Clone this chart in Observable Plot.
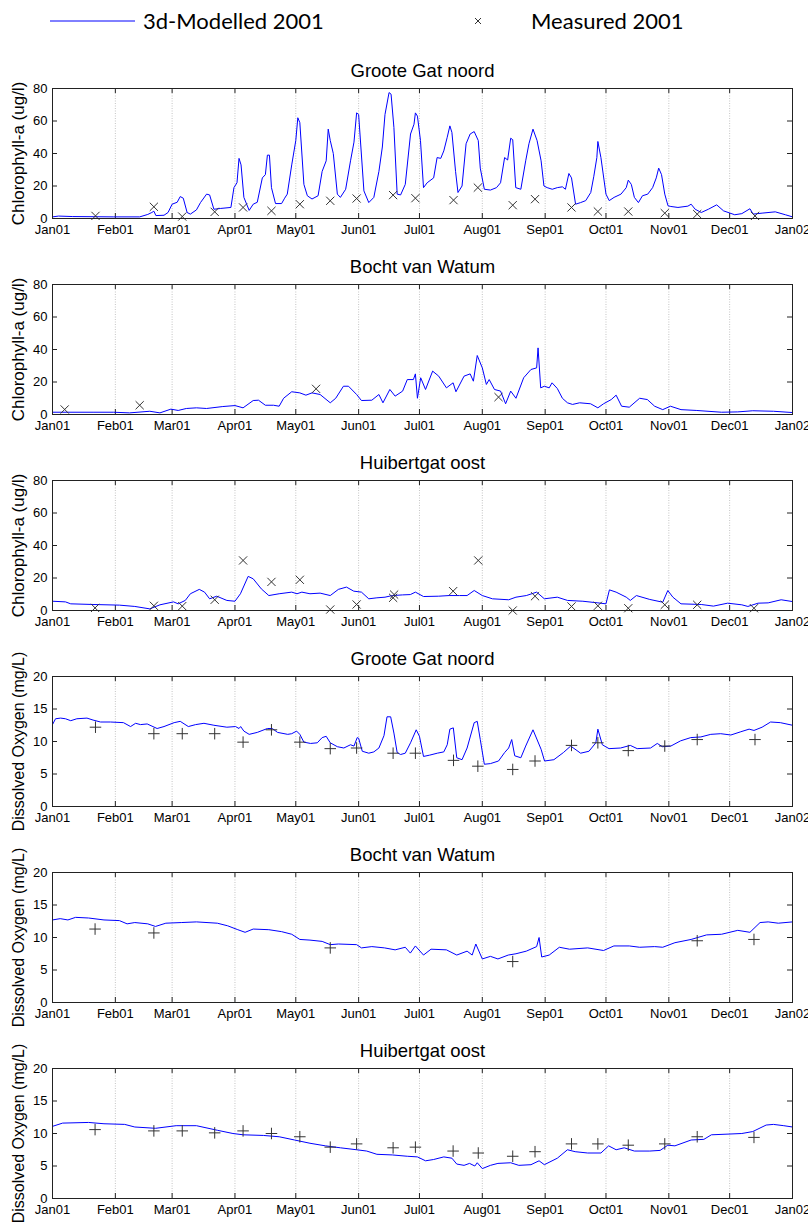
<!DOCTYPE html>
<html><head><meta charset="utf-8">
<script src="https://cdn.jsdelivr.net/npm/d3@7"></script>
<script src="https://cdn.jsdelivr.net/npm/@observablehq/plot@0.6"></script>
<style>
body{margin:0;background:#fff;width:808px;overflow:hidden}
#legend{position:relative;height:50px;font-family:Lato,'Open Sans',sans-serif;font-size:22px;color:#000}
#legend .t{position:absolute;top:7px;line-height:28px}
#legend svg{position:absolute;left:0;top:0}
#charts svg{display:block}
</style></head><body>
<div id="legend">
<svg width="808" height="50"><line x1="50" x2="135" y1="21" y2="21" stroke="#0000ff" stroke-width="1"/>
<path d="M475,18L481,24M481,18L475,24" stroke="#333" stroke-width="1"/></svg>
<span class="t" style="left:143px">3d-Modelled 2001</span>
<span class="t" style="left:531px">Measured 2001</span>
</div>
<div id="charts"></div>
<script>
const monthLabels = ["Jan01","Feb01","Mar01","Apr01","May01","Jun01","Jul01","Aug01","Sep01","Oct01","Nov01","Dec01","Jan02"];
const chlTicks = [0,20,40,60,80];
const doTicks = [0,5,10,15,20];
const stations = ["Groote Gat noord","Bocht van Watum","Huibertgat oost"];
const chlLabel = "Chlorophyll-a (ug/l)";
const doLabel = "Dissolved Oxygen (mg/L)";

// [day of 2001, value]
const ggChlModel = [[0,1],[3,1.5],[10,1.2],[20,1.1],[30,1.0],[43,1.0],[47,2.5],[49,3.7],[50,4.5],[51,1.8],[55,2],[57,3.7],[59,8.8],[61.5,10],[63,13.5],[64.5,12.5],[66.4,3.7],[68,2.7],[71,5.3],[73,9.8],[76,15],[77.5,14.5],[79.6,5.7],[83,6.2],[88,6.8],[89.5,19],[91,22],[92,37],[93,33],[94.4,13],[97,5],[99,8.8],[101,10],[103.5,25],[105,27],[106,39],[107,39],[108,19],[110,9.2],[113,9.2],[114.5,12.5],[115.8,15],[118,33],[120,48],[121,62],[122,59],[124,21],[125.7,14],[128,12],[131,14],[133,29],[135,35.5],[136,55],[137,48],[138.5,40],[140.5,15],[142,13],[144.6,18],[147,35.5],[148.7,47],[150,65],[151,64],[153.6,17],[156,9.8],[158.5,13],[161,29],[162.7,44],[164,64],[166,77.5],[167,76.5],[168.4,56],[170,15],[171.7,14.5],[174,21],[176.6,52],[178.3,58],[179,65],[180,63],[181.5,48],[183,19],[184.8,22],[188,25],[189.7,37.5],[191.5,37],[193,41.6],[194.7,50],[196,57],[197,53],[198.8,29],[200,16],[202,20],[204,46],[206,52],[208,53.5],[210,48],[211,31],[213,18],[216,17.5],[219,19],[221,22],[223,37.5],[224.5,36],[226,49.4],[227,48.5],[228.5,19],[231,18],[233.4,35.5],[235,46],[237,55],[239,48],[241,35.5],[242.4,20],[244,19],[246.5,18],[249,19],[251.5,19.5],[253,18],[254.7,27.7],[256,25],[258,8.8],[260.5,9.8],[263,11],[265.5,16],[267,26],[268.5,37.5],[269,47.4],[270.5,37.5],[273,15],[274.6,11],[277,13],[280.4,15],[283,19],[284,23.6],[285.5,21],[287,13],[289,9.8],[291,14],[293.6,15],[296,19],[297.8,25],[299,31],[300.4,27],[302,15],[303.6,7.8],[305,7.4],[308.5,6.8],[313.4,7.6],[315,8.8],[317,5.7],[320,3.7],[323.5,5.7],[327.6,8.4],[331,4.7],[336.5,2.3],[340,3],[344,6],[345.6,2.7],[350,3.3],[356.5,4.1],[361.5,2.3],[365,1]];
const ggChlMeas = [[21.2,1.6],[50,7.2],[64,1.2],[80,4.1],[94,6.8],[108,4.7],[122,8.8],[137,10.9],[150,12.3],[168,14.4],[179,12.5],[197.8,11.3],[209.8,19],[227,8.2],[238,11.9],[256,6.8],[269,4.3],[284,4.3],[302,3.3],[318,2.7],[346.5,1.6]];

const bvwChlModel = [[0,1.4],[20,1.4],[30,1.4],[38,1],[48,2],[53,1],[58.4,3.3],[62,2.5],[66,3.7],[71,4.1],[76,3.7],[84,4.9],[90,5.5],[94,4.1],[99,8.6],[101.6,8.8],[105,5.7],[109,5.7],[111.8,5.1],[114,10],[118,14],[122,13.3],[125,11.9],[128,13.3],[132,12.3],[137,7.2],[139.7,10],[143.5,17.4],[146,17.4],[150,12.3],[152.4,8.6],[157.5,8.8],[161,12.3],[163,7.2],[166.4,15.4],[169,11.3],[172.7,14.4],[175,21.5],[178,21.5],[179,25],[180,10],[181.6,22.6],[184,15.4],[187.5,26.7],[190.5,23.6],[194.3,16.4],[197.6,19.5],[199,14],[203,23.6],[206,25],[207.6,20.5],[209.5,36.3],[212,28.7],[214,18.5],[215.4,21.5],[218,15.4],[221,14.4],[223.5,6.6],[226,14.4],[228.6,10],[232.4,22.6],[236,27.7],[238.8,28.7],[239.5,41],[240.8,16.4],[242.6,17.4],[245,16.4],[246.4,19.5],[249,16],[251.5,10],[254,7.2],[256.5,6.2],[260,7.2],[265.4,6.6],[269,4.1],[271.8,6.6],[275.6,9.2],[278,11.9],[280.7,5.1],[284.5,4.5],[289.6,10],[293.4,9.2],[297,5.1],[301,3],[304.8,5.1],[310,3],[317.5,2.5],[330,1.4],[338,1.6],[345.4,2.3],[355.6,2],[365,1.2]];
const bvwChlMeas = [[6,3.1],[43,5.7],[130,15.8],[220,10.7]];

const hoChlModel = [[0,5.7],[6.4,5.3],[9,4.1],[20,3.7],[33,3.3],[40.6,2.5],[48,1],[53,3.5],[59.7,5.3],[62,4.1],[65.5,6.2],[68,10.3],[72.4,13],[75,11.3],[77.5,7.2],[81,8.8],[86,6.2],[90,5.7],[92.7,10.3],[96.5,21],[99,19.5],[103,13.3],[106.7,9.2],[111.8,10.3],[118,11.3],[120.6,10.3],[123,11.3],[127,10.3],[132,10.7],[137,9.2],[141,13],[145,14.4],[148.6,11.9],[152.4,11.3],[156,7.2],[160,7.8],[164,8.2],[167.6,9.2],[172.7,9.6],[176.5,9.8],[179,11.3],[183,8.6],[190.5,8.8],[195.6,9.2],[200.7,9.2],[204.5,9.2],[208,12.3],[212,9.2],[217,7.2],[225,6.6],[228.6,8.2],[233.7,9.2],[238.8,11.3],[242.6,7.2],[249,8.2],[254,6.2],[261.6,5.7],[269,4.7],[273,4.1],[274.7,12.7],[278,11.3],[283,8.2],[285,6.2],[288,9.2],[294.6,6.8],[301,5.1],[303.5,12.3],[306,8.2],[310,4.1],[320,3.7],[326,2.7],[333,4.5],[340,3.5],[343,2.5],[348,4.5],[353,4.7],[359.4,6.6],[365,5.5]];
const hoChlMeas = [[21,1.6],[50,2.9],[64,2.7],[80,6.6],[94,30.8],[108,17.6],[122,18.9],[137,0.6],[150,3.7],[168,7.8],[168.5,9.8],[197.6,11.9],[210,30.8],[227,0],[238,8.8],[256,2.5],[269,2.9],[284,1.4],[302,3.5],[318,3.5],[346,1.4]];

const ggDoModel = [[0,12.6],[1.5,13.5],[4,13.6],[6.4,13.5],[9,13.2],[12,13.5],[17,13.6],[20,13.3],[23.7,13],[28.6,13],[35,12.9],[38.5,12.3],[41,12.8],[43.4,12.6],[46.7,12.7],[51.6,12],[55,12.3],[60,12.9],[63,13.1],[67,12.3],[70.6,12.6],[74.7,12.8],[79.6,12.5],[86,12.2],[90.3,12.3],[92,12],[92.8,12.3],[94.4,11.6],[97,11.1],[101,11.4],[106,12],[108.4,12],[111,11.4],[116,11.1],[118,11.2],[120.4,11.6],[122,11.1],[124,9.9],[127.3,9.7],[130.6,9.8],[133,10.6],[135,10.8],[137,9.8],[140.5,9.2],[143.7,9],[147,9.5],[148.7,9.3],[150.3,10.6],[151,10.5],[152.8,8.5],[156,8.2],[158.5,8.4],[161,9],[163.5,10.9],[165,13.8],[166.8,13.8],[168.4,11.3],[170,8.3],[171.7,8],[174,8.2],[176.6,9.8],[179.4,11.8],[181,10.8],[183,7.7],[186,7.9],[189.8,8.2],[193,8.4],[194.7,9.5],[196,11.9],[197.7,12.1],[199.4,7.5],[202,7.2],[204.5,9],[208,12.9],[209.5,13.1],[211,10.3],[213,6.5],[216,6.6],[220,7],[223,8.3],[225,9],[226.5,10.3],[228,7.8],[231,7.5],[233.4,9.3],[237,11.8],[241,8.8],[242.7,7],[247.3,7.2],[252,8.3],[255.6,9.3],[260.5,8.2],[264.6,8.5],[268,9.8],[269,11.9],[271.2,9.5],[274.5,8.9],[280.2,9],[285,9.4],[288.4,8.9],[295,9],[298.3,9.7],[300.8,9.2],[305,9.3],[309.8,10.1],[314.8,10.6],[319.8,10.7],[324.7,11.1],[329.6,11.2],[334.6,11],[339.5,11.5],[343.6,11.9],[346,11.7],[350,12.2],[354.2,13],[359,12.9],[365,12.5]];
const ggDoMeas = [[21.2,12.2],[50,11.2],[64,11.2],[80,11.2],[94,9.9],[108,11.8],[122,9.9],[137,8.9],[150,9],[168,8.2],[179,8.2],[197.8,7.1],[209.8,6.2],[227,5.7],[238,7],[256,9.4],[269,9.8],[284,8.6],[302,9.3],[318,10.3],[346.5,10.3]];

const bvwDoModel = [[0,12.7],[3.8,12.9],[7.6,12.7],[11.4,13.1],[17.8,13],[25.4,12.7],[33,12.6],[36.8,12.1],[40.6,12.3],[47,12.1],[50.8,11.7],[55.9,12.2],[63.5,12.3],[71,12.4],[81.3,12.2],[86.4,11.8],[91.4,11.2],[95,10.8],[99,11.3],[106.7,11.2],[113,10.9],[118,10.5],[122,9.7],[127,9.6],[133,9.4],[137,8.9],[141,9],[150,8.9],[152.4,8.4],[157.5,8.6],[163.8,8.4],[169,8.1],[174,8.5],[176.5,7.6],[179,8.7],[183,7.3],[186.7,8.2],[194.3,8.1],[199.4,7.3],[204.5,7.9],[207,7.3],[208.8,9],[212,6.7],[216,7.1],[219.7,6.7],[224.8,7.3],[228.6,7.5],[233.7,7.9],[238.8,8.6],[240,10],[241.3,7],[245,7.3],[250,8.5],[255,8.2],[264,8.4],[271.8,8],[276.9,8.7],[284.5,8.7],[289.6,8.5],[297,8.6],[301,8.5],[307,9.2],[315,9.7],[322.6,10.4],[330,10.5],[338,11.1],[344,10.8],[349,12.3],[353,12.4],[358,12.2],[365,12.4]];
const bvwDoMeas = [[21,11.3],[50,10.7],[137,8.4],[227,6.3],[318,9.5],[346,9.7]];

const hoDoModel = [[0,11.1],[5,11.6],[17.8,11.7],[25.4,11.5],[35.6,11.4],[40.6,11],[50.8,10.8],[61,11.2],[71,11.2],[81.3,10.5],[89,10],[94,9.8],[104,9.7],[111.8,9.5],[119.4,9],[127,8.5],[134.6,8.1],[142,7.8],[150,7.5],[155,7.3],[160,6.8],[167.6,6.7],[175,6.5],[180,6.4],[184,5.8],[188,6],[193,6.4],[197,6.2],[199.4,5.3],[203,5.1],[205.7,5.4],[208.3,5],[209.5,5.5],[212,4.6],[216,5.1],[219.7,5.4],[226,5.5],[230,5.1],[236,5.2],[240,5.8],[242.6,5.2],[249,6.2],[254,7.5],[257.8,7.2],[264,7],[270.5,7],[274.3,8.1],[278,7.5],[282,7.8],[287,7.3],[294.6,7.3],[299.7,7.4],[303.5,8.2],[307,8.1],[315,9],[321.3,9.1],[325,9.8],[332.7,9.9],[340,10],[345.4,10.3],[352,11.3],[355.6,11.4],[360.7,11.2],[365,11]];
const hoDoMeas = [[21,10.6],[50,10.4],[64,10.4],[80,10.1],[94,10.4],[108,10],[122,9.5],[137,7.9],[150,8.4],[168,7.8],[179,7.9],[197.6,7.3],[210,7],[227,6.5],[238,7.2],[256,8.4],[269,8.4],[284,8.2],[302,8.4],[318,9.5],[346,9.4]];

const t0 = Date.UTC(2001, 0, 1);
const toDate = d => new Date(t0 + d * 864e5);
const monthDates = d3.utcMonth.range(new Date(t0), new Date(Date.UTC(2002, 0, 2)));
const fmt = d => monthLabels[monthDates.findIndex(m => +m === +d)];

function panel(title, ylabel, model, meas, yTicks, symbol, labelSize) {
  const W = 808, H = 196, mt = 38, mb = 28, ml = 52, mr = 16;
  const fw = W - ml - mr, fh = H - mt - mb;
  return Plot.plot({
    width: W, height: H, marginTop: mt, marginBottom: mb, marginLeft: ml, marginRight: mr,
    style: {fontFamily: "'Liberation Sans', Arial, sans-serif", fontSize: "13px", overflow: "visible", background: "transparent", color: "#000"},
    x: {type: "utc", domain: [monthDates[0], monthDates[12]]},
    y: {domain: [yTicks[0], yTicks[yTicks.length - 1]]},
    marks: [
      Plot.ruleX(monthDates.slice(1, -1), {stroke: "#c4c4c4", strokeDasharray: "1,1.5"}),
      Plot.tickX(monthDates, {insetTop: fh - 5, stroke: "#222"}),
      Plot.tickX(monthDates, {insetBottom: fh - 5, stroke: "#222"}),
      Plot.tickY(yTicks, {insetRight: fw - 5, stroke: "#222"}),
      Plot.tickY(yTicks, {insetLeft: fw - 5, stroke: "#222"}),
      Plot.axisX(monthDates, {tickSize: 0, tickPadding: 6, tickFormat: fmt, label: null}),
      Plot.axisY(yTicks, {tickSize: 0, tickPadding: 5, label: null}),
      Plot.line(model, {x: d => toDate(d[0]), y: d => d[1], stroke: "#0000ff", strokeWidth: 1}),
      Plot.dot(meas, {x: d => toDate(d[0]), y: d => d[1], symbol, r: 3.8, stroke: "#333", strokeWidth: 1}),
      Plot.frame({stroke: "#222"}),
      Plot.text([title], {frameAnchor: "top", dy: -17, fontSize: 18.5, lineAnchor: "middle"}),
      Plot.text([ylabel], {frameAnchor: "left", textAnchor: "middle", dx: -34, rotate: -90, fontSize: labelSize, lineAnchor: "middle"})
    ]
  });
}

const charts = document.getElementById("charts");
charts.append(
  panel(stations[0], chlLabel, ggChlModel, ggChlMeas, chlTicks, "times", 17),
  panel(stations[1], chlLabel, bvwChlModel, bvwChlMeas, chlTicks, "times", 17),
  panel(stations[2], chlLabel, hoChlModel, hoChlMeas, chlTicks, "times", 17),
  panel(stations[0], doLabel, ggDoModel, ggDoMeas, doTicks, "plus", 16),
  panel(stations[1], doLabel, bvwDoModel, bvwDoMeas, doTicks, "plus", 16),
  panel(stations[2], doLabel, hoDoModel, hoDoMeas, doTicks, "plus", 16)
);
</script>
</body></html>
